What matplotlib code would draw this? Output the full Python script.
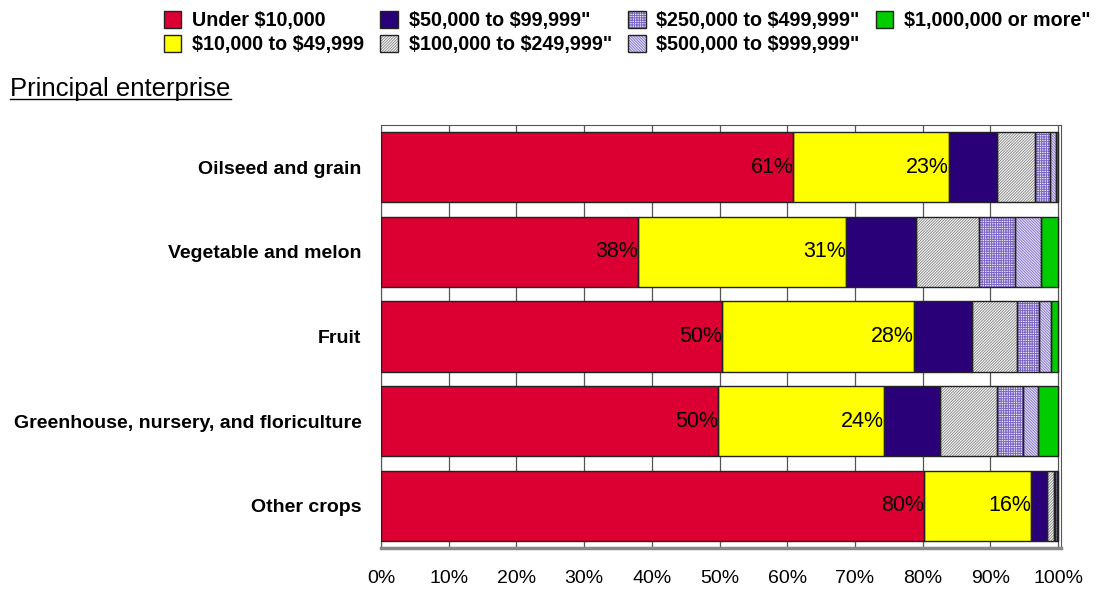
import numpy as np
import matplotlib.pyplot as plt
from matplotlib.patches import Patch
from matplotlib.legend_handler import HandlerTuple

plt.rcParams['font.family'] = ['Liberation Sans', 'DejaVu Sans']
plt.rcParams['text.parse_math'] = False
plt.rcParams['hatch.linewidth'] = 0.7

categories = ['Oilseed and grain', 'Vegetable and melon', 'Fruit',
              'Greenhouse, nursery, and floriculture', 'Other crops']
series = ['Under $10,000', '$10,000 to $49,999', '$50,000 to $99,999"',
          '$100,000 to $249,999"', '$250,000 to $499,999"',
          '$500,000 to $999,999"', '$1,000,000 or more"']

under_10k = [60.9, 38.0, 50.4, 49.8, 80.2]
k10_50 = [23.0, 30.7, 28.3, 24.5, 15.8]
k50_100 = [7.1, 10.3, 8.6, 8.3, 2.4]
k100_250 = [5.6, 9.3, 6.6, 8.4, 1.0]
k250_500 = [2.2, 5.3, 3.3, 3.8, 0.2]
k500_1m = [0.9, 3.9, 1.8, 2.2, 0.2]
over_1m = [0.3, 2.5, 1.0, 3.0, 0.2]

values = [under_10k, k10_50, k50_100, k100_250, k250_500, k500_1m, over_1m]
labelled = {0: under_10k, 1: k10_50}

styles = [
    dict(facecolor='#dc0032', hatch=None, hc='black'),
    dict(facecolor='#ffff00', hatch=None, hc='black'),
    dict(facecolor='#2a0078', hatch=None, hc='black'),
    dict(facecolor='white', hatch='/' * 12, hc='#8c8c8c'),
    dict(facecolor='#efebfa', hatch='+' * 7, hc='#7a64c4'),
    dict(facecolor='#e9e4f8', hatch='\\' * 12, hc='#8a78cc'),
    dict(facecolor='#00cc00', hatch=None, hc='black'),
]

fig = plt.figure(figsize=(10.97, 5.92), dpi=100)
ax = fig.add_axes([0.3473, 0.0743, 0.6200, 0.7146])

y = np.arange(len(categories))
left = np.zeros(len(categories))
for i, vals in enumerate(values):
    st = styles[i]
    ax.barh(y, vals, left=left, height=0.83, facecolor=st['facecolor'],
            edgecolor=st['hc'], linewidth=0, hatch=st['hatch'], zorder=3)
    # dark outline drawn separately so hatch colour stays light
    ax.barh(y, vals, left=left, height=0.83, facecolor='none',
            edgecolor='#222222', linewidth=1.0, zorder=4)
    if i in labelled:
        for yy, l, v in zip(y, left, vals):
            ax.text(l + v, yy, f'{round(v):.0f}%', ha='right', va='center',
                    fontsize=15.5, zorder=5)
    left = left + np.array(vals)

ax.set_xlim(0, 100.45)
ax.set_ylim(len(categories) - 0.5, -0.5)
ax.set_xticks(np.arange(0, 101, 10))
ax.set_xticklabels([f'{t}%' for t in range(0, 101, 10)], fontsize=14)
ax.set_yticks(y)
ax.set_yticklabels(categories, fontsize=14, fontweight='bold')
ax.tick_params(axis='y', length=0, pad=14)
ax.tick_params(axis='x', length=0, pad=16)
ax.grid(axis='x', color='#555555', linewidth=0.9, zorder=0)
for side in ['top', 'right', 'left']:
    ax.spines[side].set_color('#555555')
ax.spines['bottom'].set_color('#888888')
ax.spines['bottom'].set_linewidth(2.5)

# legend keys: hatched fill with a dark outline laid on top
handles = [(Patch(facecolor=st['facecolor'], edgecolor=st['hc'], linewidth=0,
                  hatch=st['hatch']),
            Patch(facecolor='none', edgecolor='#222222', linewidth=1.0))
           for st in styles]
leg = fig.legend(handles=handles, labels=series, ncol=4, loc='upper left',
                 handler_map={tuple: HandlerTuple(ndivide=1, pad=0)},
                 bbox_to_anchor=(0.133, 1.012), frameon=False,
                 prop=dict(weight='bold', size=14.2), handlelength=0.9,
                 handleheight=0.95, handletextpad=0.55, columnspacing=0.8,
                 labelspacing=0.25)

fig.text(0.009, 0.838, 'Principal enterprise', fontsize=18.5)
fig.add_artist(plt.Line2D([0.009, 0.211], [0.832, 0.832], color='black',
                          linewidth=1.0))

fig.savefig('out.png', dpi=100)
